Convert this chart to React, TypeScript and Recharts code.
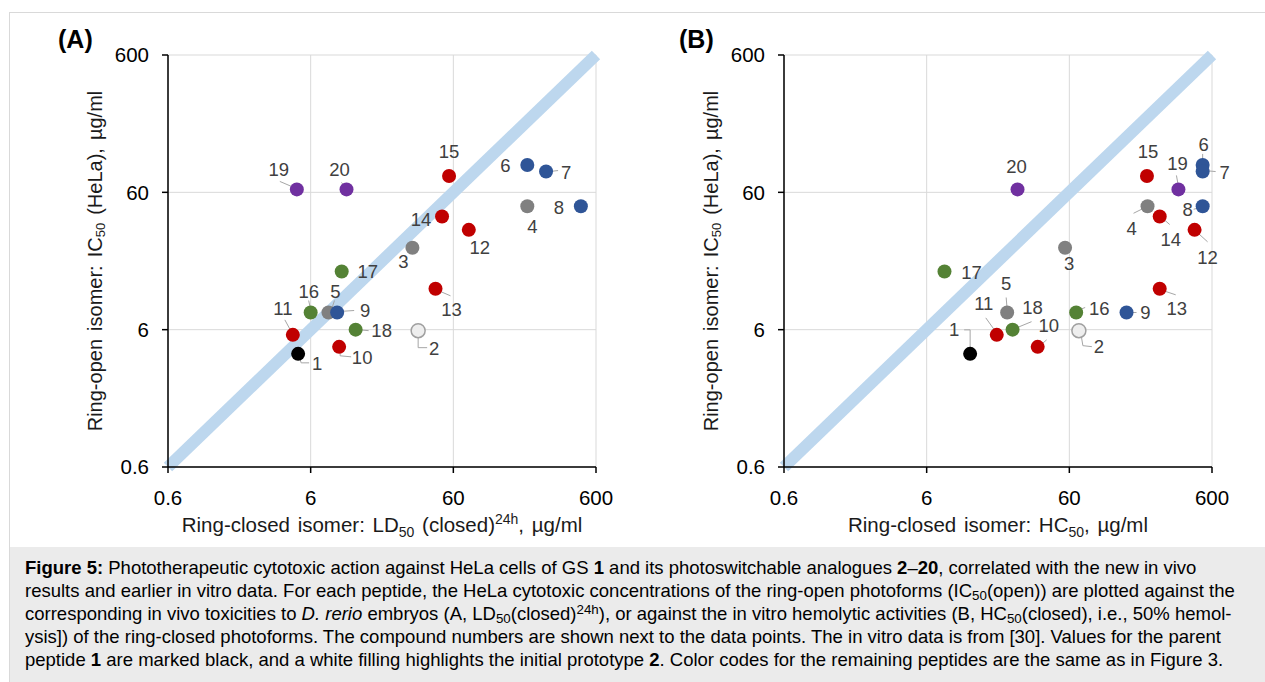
import React from "react";
import { ScatterChart, Scatter, XAxis, YAxis, CartesianGrid, ReferenceLine } from "recharts";

// compound numbers and their colour group
const compounds = [1, 2, 3, 4, 5, 6, 7, 8, 9, 10, 11, 12, 13, 14, 15, 16, 17, 18, 19, 20];
const groups = [
  "parent", "prototype", "grey", "grey", "grey", "blue", "blue", "blue", "blue", "red",
  "red", "red", "red", "red", "red", "green", "green", "green", "purple", "purple",
];

// x of panel A: LD50(closed)24h, ug/ml
const ldClosed24h = [4.9, 34, 31, 198, 8.0, 198, 268, 470, 9.2, 9.5, 4.5, 77, 45, 50, 56, 6.0, 9.9, 12.4, 4.8, 10.7];
// x of panel B: HC50(closed), ug/ml
const hcClosed = [12.1, 70, 56, 212, 22, 516, 516, 516, 151, 36, 18.6, 453, 258, 258, 210, 67, 8.0, 24, 349, 26];
// y of both panels: IC50(open), HeLa, ug/ml
const icOpen = [4.0, 5.9, 23.7, 47.5, 8.0, 95, 85, 47.5, 8.0, 4.5, 5.5, 32, 11.9, 40, 79, 8.0, 15.9, 6.0, 63, 63];

const axisTicks = [0.6, 6, 60, 600];

const groupFill: Record<string, string> = {
  parent: "#000000",
  prototype: "#eeeeee",
  grey: "#808080",
  blue: "#2f5597",
  red: "#c00000",
  green: "#548235",
  purple: "#7030a0",
};

type LabelPos = { d: [number, number]; lead?: number[][] };

// label offsets from the dot centre (px), with optional leader lines
const labelsA: Record<number, LabelPos> = {
  1: { d: [19, 10], lead: [[1, 2], [3, 9], [11, 9]] },
  2: { d: [16, 18], lead: [[0, 3], [0, 17], [9, 17]] },
  3: { d: [-9, 14] },
  4: { d: [5, 20] },
  5: { d: [7, -21], lead: [[6, -12], [3, -3]] },
  6: { d: [-22, 1] },
  7: { d: [20, 1], lead: [[3, 0], [12, -1]] },
  8: { d: [-22, 1] },
  9: { d: [28, -2], lead: [[2, -1], [17, -2]] },
  10: { d: [23, 11], lead: [[1, 2], [1, 9], [12, 10]] },
  11: { d: [-10, -26], lead: [[-8, -15], [-2, -4]] },
  12: { d: [11, 18] },
  13: { d: [16, 21], lead: [[1, 1], [15, 7]] },
  14: { d: [-21, 3] },
  15: { d: [0, -24] },
  16: { d: [-2, -21], lead: [[-2, -12], [0, -3]] },
  17: { d: [26, 0] },
  18: { d: [26, 1], lead: [[2, 0], [13, 1]] },
  19: { d: [-18, -20], lead: [[-17, -8], [-3, -2]] },
  20: { d: [-7, -20], lead: [[-5, -7], [-1, -2]] },
};

const labelsB: Record<number, LabelPos> = {
  1: { d: [-16, -24], lead: [[0, -3], [0, -24], [-6, -24]] },
  2: { d: [20, 16], lead: [[2, 3], [4, 15], [13, 16]] },
  3: { d: [4, 16] },
  4: { d: [-16, 22], lead: [[-14, 7], [-2, 1]] },
  5: { d: [-1, -29], lead: [[-1, -15], [0, -3]] },
  6: { d: [1, -20], lead: [[0, -11], [0, -3]] },
  7: { d: [22, 1], lead: [[2, -1], [13, 0]] },
  8: { d: [-15, 3], lead: [[-9, 3], [-2, 1]] },
  9: { d: [19, 0], lead: [[2, 0], [10, 0]] },
  10: { d: [11, -21], lead: [[2, -1], [9, -7]] },
  11: { d: [-13, -31], lead: [[-11, -17], [-1, -3]] },
  12: { d: [13, 28], lead: [[2, 2], [13, 12]] },
  13: { d: [17, 20], lead: [[1, 1], [16, 6]] },
  14: { d: [11, 23], lead: [[2, 1], [10, 8]] },
  15: { d: [1, -24] },
  16: { d: [23, -4], lead: [[1, -2], [9, -5]] },
  17: { d: [27, 1] },
  18: { d: [20, -22], lead: [[2, -1], [19, -8]] },
  19: { d: [-1, -26], lead: [[-2, -14], [0, -3]] },
  20: { d: [-1, -23] },
};

const dataA = compounds.map((id, i) => ({ id, group: groups[i], x: ldClosed24h[i], y: icOpen[i] }));
const dataB = compounds.map((id, i) => ({ id, group: groups[i], x: hcClosed[i], y: icOpen[i] }));

const FONT = "'Liberation Sans', Arial, sans-serif";
const TEXT = "#1a1a1a";

function renderPoint(props: any, labels: Record<number, LabelPos>) {
  const { cx, cy, payload } = props;
  const pos = labels[payload.id];
  const isProto = payload.group === "prototype";
  return (
    <g>
      {pos.lead && (
        <polyline
          points={pos.lead.map(([a, b]) => `${cx + a},${cy + b}`).join(" ")}
          fill="none"
          stroke="#a6a6a6"
          strokeWidth={1}
        />
      )}
      <circle
        cx={cx}
        cy={cy}
        r={7}
        fill={groupFill[payload.group]}
        stroke={isProto ? "#a0a0a0" : "none"}
        strokeWidth={isProto ? 1.5 : 0}
      />
      <text
        x={cx + pos.d[0]}
        y={cy + pos.d[1]}
        textAnchor="middle"
        dominantBaseline="central"
        fontSize={18.5}
        fill="#404040"
      >
        {payload.id}
      </text>
    </g>
  );
}

function yTitle(props: any) {
  const vb = props.viewBox;
  const cx = vb.x + vb.width - 73;
  const cy = vb.y + vb.height / 2;
  return (
    <text
      x={cx}
      y={cy}
      transform={`rotate(-90 ${cx} ${cy})`}
      textAnchor="middle"
      dominantBaseline="central"
      fontSize={20}
      wordSpacing={2.5}
      fill={TEXT}
    >
      Ring-open isomer: IC<tspan dy={5} fontSize={13}>50</tspan>
      <tspan dy={-5}> (HeLa), µg/ml</tspan>
    </text>
  );
}

function xTitleA(props: any) {
  const vb = props.viewBox;
  const cx = vb.x + vb.width / 2;
  const cy = vb.y + 65;
  return (
    <text x={cx} y={cy} textAnchor="middle" fontSize={20.5} wordSpacing={2} fill={TEXT}>
      Ring-closed isomer: LD<tspan dy={5} fontSize={14}>50</tspan>
      <tspan dy={-5}> (closed)</tspan>
      <tspan dy={-8} fontSize={14}>24h</tspan>
      <tspan dy={8}>, µg/ml</tspan>
    </text>
  );
}

function xTitleB(props: any) {
  const vb = props.viewBox;
  const cx = vb.x + vb.width / 2;
  const cy = vb.y + 65;
  return (
    <text x={cx} y={cy} textAnchor="middle" fontSize={20.5} wordSpacing={2} fill={TEXT}>
      Ring-closed isomer: HC<tspan dy={5} fontSize={14}>50</tspan>
      <tspan dy={-5}>, µg/ml</tspan>
    </text>
  );
}

function Panel({ data, labels, xTitle, yWidth, right }: any) {
  return (
    <ScatterChart
      width={yWidth + 428 + right}
      height={545}
      margin={{ top: 55, right, bottom: 0, left: 0 }}
    >
      <CartesianGrid stroke="#d9d9d9" strokeWidth={1} />
      <XAxis
        type="number"
        dataKey="x"
        scale="log"
        domain={[0.6, 600]}
        ticks={axisTicks}
        height={78}
        axisLine={{ stroke: "#000", strokeWidth: 1.5 }}
        tickLine={{ stroke: "#000", strokeWidth: 1.5 }}
        tickSize={6}
        tickMargin={17}
        tick={{ fontSize: 20.5, fill: "#000" }}
        label={xTitle}
      />
      <YAxis
        type="number"
        dataKey="y"
        scale="log"
        domain={[0.6, 600]}
        ticks={axisTicks}
        width={yWidth}
        axisLine={{ stroke: "#000", strokeWidth: 1.5 }}
        tickLine={{ stroke: "#000", strokeWidth: 1.5 }}
        tickSize={6}
        tickMargin={13}
        tick={{ fontSize: 20.5, fill: "#000" }}
        label={yTitle}
      />
      <ReferenceLine
        segment={[{ x: 0.6, y: 0.6 }, { x: 600, y: 600 }]}
        stroke="#bdd7ee"
        strokeWidth={12}
        ifOverflow="visible"
      />
      <Scatter data={data} isAnimationActive={false} shape={(p: any) => renderPoint(p, labels)} />
    </ScatterChart>
  );
}

const subStyle: React.CSSProperties = { fontSize: "0.72em", lineHeight: 0, verticalAlign: "-0.25em" };
const supStyle: React.CSSProperties = { fontSize: "0.72em", lineHeight: 0, verticalAlign: "0.45em" };

const captionLines = [
  <>
    <b>Figure 5:</b> Phototherapeutic cytotoxic action against HeLa cells of GS <b>1</b> and its photoswitchable analogues <b>2</b>–<b>20</b>, correlated with the new in vivo
  </>,
  <>
    results and earlier in vitro data. For each peptide, the HeLa cytotoxic concentrations of the ring-open photoforms (IC<span style={subStyle}>50</span>(open)) are plotted against the
  </>,
  <>
    corresponding in vivo toxicities to <i>D. rerio</i> embryos (A, LD<span style={subStyle}>50</span>(closed)<span style={supStyle}>24h</span>), or against the in vitro hemolytic activities (B, HC<span style={subStyle}>50</span>(closed), i.e., 50% hemol-
  </>,
  <>
    ysis]) of the ring-closed photoforms. The compound numbers are shown next to the data points. The in vitro data is from [30]. Values for the parent
  </>,
  <>
    peptide <b>1</b> are marked black, and a white filling highlights the initial prototype <b>2</b>. Color codes for the remaining peptides are the same as in Figure 3.
  </>,
];

export default function App() {
  return (
    <div
      style={{
        position: "absolute",
        left: 0,
        top: 0,
        width: 1265,
        height: 682,
        overflow: "hidden",
        background: "#fff",
        fontFamily: FONT,
      }}
    >
      <div
        style={{
          position: "absolute",
          left: 9,
          top: 12,
          width: 1270,
          height: 680,
          borderLeft: "1.5px solid #d9d9d9",
          borderTop: "1.5px solid #d9d9d9",
        }}
      />
      <div style={{ position: "absolute", left: 0, top: 0 }}>
        <Panel data={dataA} labels={labelsA} xTitle={xTitleA} yWidth={168} right={24} />
      </div>
      <div style={{ position: "absolute", left: 620, top: 0 }}>
        <Panel data={dataB} labels={labelsB} xTitle={xTitleB} yWidth={164} right={55} />
      </div>
      <div style={{ position: "absolute", left: 58, top: 25, fontSize: 25, fontWeight: "bold", color: "#000" }}>(A)</div>
      <div style={{ position: "absolute", left: 679, top: 25, fontSize: 25, fontWeight: "bold", color: "#000" }}>(B)</div>
      <div
        style={{
          position: "absolute",
          left: 10,
          top: 547,
          width: 1260,
          height: 140,
          background: "#ebebeb",
          paddingTop: 9,
          paddingLeft: 15,
          boxSizing: "border-box",
          fontSize: 18.5,
          lineHeight: "23px",
          color: "#000",
        }}
      >
        {captionLines.map((line, i) => (
          <div key={i} style={{ whiteSpace: "nowrap" }}>
            {line}
          </div>
        ))}
      </div>
    </div>
  );
}
